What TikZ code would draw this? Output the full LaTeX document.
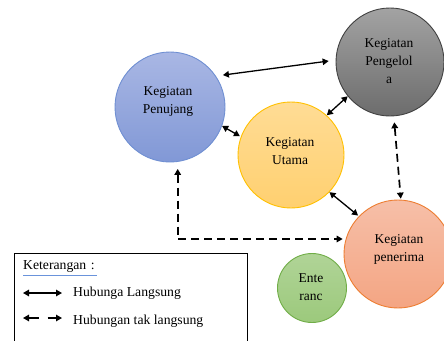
\documentclass[tikz,border=0pt]{standalone}
\usepackage{fontspec}
\setmainfont{Liberation Serif}
\usetikzlibrary{arrows.meta}
\definecolor{bluetop}{HTML}{A9B7E4}
\definecolor{bluebot}{HTML}{8198D6}
\definecolor{blueline}{HTML}{6F8FD2}
\definecolor{graytop}{HTML}{A3A3A3}
\definecolor{graybot}{HTML}{6C6C6C}
\definecolor{grayline}{HTML}{404040}
\definecolor{yeltop}{HTML}{FFDC95}
\definecolor{yelbot}{HTML}{FFD070}
\definecolor{yelline}{HTML}{FFC000}
\definecolor{ortop}{HTML}{F6BFA8}
\definecolor{orbot}{HTML}{F4A583}
\definecolor{orline}{HTML}{ED7D31}
\definecolor{grtop}{HTML}{B0D497}
\definecolor{grbot}{HTML}{9CC97C}
\definecolor{grline}{HTML}{70AD47}
\definecolor{spell}{HTML}{6A93DB}
\tikzset{
  ball/.style={circle, line width=0.9pt, align=center, inner sep=0pt, text=black},
  balltext/.style={font=\fontsize{13.5}{18}\selectfont, align=center},
  conn/.style={line width=1.3pt, {Triangle[length=6pt,width=6.5pt]}-{Triangle[length=6pt,width=6.5pt]}},
  dconn/.style={line width=1.7pt, dash pattern=on 8pt off 5pt, {Triangle[length=6pt,width=6.5pt]}-{Triangle[length=6pt,width=6.5pt]}},
  legtext/.style={anchor=west, inner sep=0pt, font=\fontsize{13.7}{16}\selectfont}
}
\begin{document}
\begin{tikzpicture}[x=1pt,y=-1pt]
\useasboundingbox (0,0) rectangle (444,340);
\begin{scope}
\clip (0,0) rectangle (444,340);
% circles
\node[ball, minimum size=110pt, draw=blueline, top color=bluetop, bottom color=bluebot] (pj) at (170,107) {};
\node[balltext] (pjt) at (168,101) {Kegiatan\\Penujang};
\node[ball, minimum size=108pt, draw=grayline, top color=graytop, bottom color=graybot] (pg) at (390,62) {};
\node[balltext] (pgt) at (389,61) {Kegiatan\\Pengelol\\a};
\node[ball, minimum size=106pt, draw=yelline, top color=yeltop, bottom color=yelbot] (ut) at (291,155) {};
\node[balltext] (utt) at (290,151) {Kegiatan\\Utama};
\node[ball, minimum size=108pt, draw=orline, top color=ortop, bottom color=orbot] (pn) at (398,254) {};
\node[balltext] (pnt) at (399,249) {Kegiatan\\penerima};
\node[ball, minimum size=69pt, draw=grline, top color=grtop, bottom color=grbot] (en) at (312,288) {};
\node[balltext] (ent) at (311,287) {Ente\\ranc};
% connectors
\draw[conn, shorten <=7pt, shorten >=7pt] (pj.34) -- (pg.178);
\draw[conn, shorten >=1pt] (pj.-20) -- (ut.160);
\draw[conn] (ut.48) -- (pg.219);
\draw[conn, shorten >=1pt] (ut.-44) -- (pn.136);
\draw[dconn, shorten <=6pt, shorten >=1pt] (pg.-86) -- (pn.87);
\draw[dconn, shorten <=7pt, shorten >=3pt] (pj.-82) |- (pn.164);
% legend
\draw[line width=0.9pt, fill=white] (14,253) rectangle (247,350);
\node[legtext] (kt) at (23,266) {Keterangan\,\,:};
\draw[spell, line width=1.3pt] (kt.south west) ++(0,3) -- ++(74,0);
\coordinate (la1) at (23,293);
\coordinate (la2) at (62,293);
\draw[conn] (la1) -- (la2);
\node[legtext] (lt1) at (73,293) {Hubunga Langsung};
\coordinate (lb1) at (23,318);
\coordinate (lb2) at (62,318);
\draw[line width=1.3pt, dash pattern=on 10pt off 9pt, {Triangle[length=6pt,width=6.5pt]}-{Triangle[length=6pt,width=6.5pt]}] (lb1) -- (lb2);
\node[legtext] (lt2) at (73,321) {Hubungan tak langsung};
\end{scope}
\end{tikzpicture}
\end{document}
